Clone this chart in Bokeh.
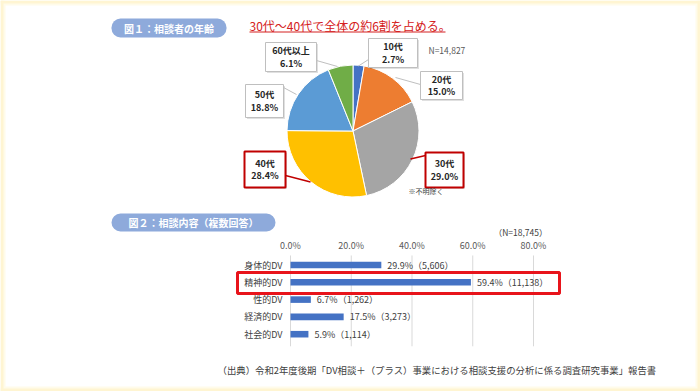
import math
from bokeh.plotting import figure
from bokeh.models import (Range1d, LinearAxis, FixedTicker, PrintfTickFormatter,
                          BoxAnnotation, ColumnDataSource)
from bokeh.core.properties import value
from bokeh.embed import file_html
from bokeh.resources import INLINE

# ---------------- data ----------------
age_groups = ["10代", "20代", "30代", "40代", "50代", "60代以上"]
age_share = [2.7, 15.0, 29.0, 28.4, 18.8, 6.1]
age_colors = ["#4472C4", "#ED7D31", "#A5A5A5", "#FFC000", "#5B9BD5", "#70AD47"]
age_n_text = "N=14,827"
age_note = "※不明除く"
fig1_title = "図１：相談者の年齢"
fig1_headline = "30代～40代で全体の約6割を占める。"

dv_categories = ["身体的DV", "精神的DV", "性的DV", "経済的DV", "社会的DV"]
dv_share = [29.9, 59.4, 6.7, 17.5, 5.9]
dv_counts = [5606, 11138, 1262, 3273, 1114]
dv_ticks = [0, 20, 40, 60, 80]
dv_n_text = "（N=18,745）"
fig2_title = "図２：相談内容（複数回答）"
source_text = "（出典）令和2年度後期「DV相談＋（プラス）事業における相談支援の分析に係る調査研究事業」報告書"

JP = value("Noto Sans CJK JP")

# ---------------- page geometry (pixel coordinates of the page) ----------------
W, H = 700, 391
X0, Y0 = 0, 0


def Y(r):
    return -r


p = figure(width=W, height=H, output_backend="svg", toolbar_location=None,
           x_range=Range1d(X0, X0 + W), y_range=Range1d(-(Y0 + H), -Y0),
           x_axis_location=None, y_axis_location=None, min_border=0,
           background_fill_color="white", border_fill_color="white")
p.outline_line_color = None
p.xgrid.visible = False
p.ygrid.visible = False

# cream page frame
for (w, c) in [(5, "#FFFBEA"), (3, "#FFF5D2")]:
    p.quad(left=[0, 0, 0, W - w], right=[W, W, w, W], top=[Y(0), Y(H - w), Y(0), Y(0)],
           bottom=[Y(w), Y(H), Y(H), Y(H)], fill_color=c, line_color=None)

# bar-chart scales: 0% at x=290, 80% at x=533 ; first category at y=264.5, step 17.3
bx0, bx80 = 290.0, 533.0
ppu = (bx80 - bx0) / 80.0
cy0, cstep = 264.5, 17.3
p.extra_x_ranges = {"pct": Range1d((X0 - bx0) / ppu, (X0 + W - bx0) / ppu)}
p.extra_y_ranges = {"cat": Range1d((Y0 + H - cy0) / cstep, (Y0 - cy0) / cstep)}

# ---------------- title pills ----------------
pill_color = "#8EAADB"
for (l, r, t, b, txt) in [(111, 226, 18, 37, fig1_title), (111, 275, 213, 231, fig2_title)]:
    p.add_layout(BoxAnnotation(left=l, right=r, top=Y(t), bottom=Y(b),
                               fill_color=pill_color, fill_alpha=1.0,
                               line_color=None, border_radius=9, level="underlay"))
    p.text(x=[(l + r) / 2], y=[Y((t + b) / 2)], text=[txt], text_align="center",
           text_baseline="middle", text_color="white", text_font=JP,
           text_font_size="10px", text_font_style="bold")

# headline (red, underlined)
p.text(x=[249], y=[Y(25)], text=[fig1_headline], text_align="left", text_baseline="middle",
       text_color="#D42020", text_font=JP, text_font_size="12px")
p.segment(x0=[249], x1=[445], y0=[Y(31.5)], y1=[Y(31.5)], line_color="#D42020", line_width=1)

# ---------------- pie ----------------
cx, cy, rad = 352.5, 130.5, 66
starts, ends, cum = [], [], 0.0
for v in age_share:
    starts.append(math.pi / 2 - 2 * math.pi * cum / 100.0)
    cum += v
    ends.append(math.pi / 2 - 2 * math.pi * cum / 100.0)
pie_src = ColumnDataSource(dict(group=age_groups, share=age_share, color=age_colors,
                                start=starts, end=ends))
p.wedge(x=cx, y=Y(cy), radius=rad, start_angle="start", end_angle="end",
        direction="clock", fill_color="color", line_color="white", line_width=1,
        source=pie_src)

# callout boxes: (left, right, top, bottom), leader (x0,y0,x1,y1), highlighted
callouts = {
    "10代": ((368, 417, 38, 67), (368, 59, 358, 65.5), False),
    "20代": ((420, 462, 71, 99), (420, 84, 395, 77), False),
    "30代": ((425, 463, 152, 187), (425, 155, 410, 158.5), True),
    "40代": ((244, 285, 151, 187), (285, 175, 310, 181.5), True),
    "50代": ((245, 283, 84, 117), (283, 87, 296, 94), False),
    "60代以上": ((265, 316, 42, 71), (316, 60, 337, 66), False),
}
for g, v in zip(age_groups, age_share):
    (l, r, t, b), (lx0, ly0, lx1, ly1), hi = callouts[g]
    col = "#C00000" if hi else "#BFBFBF"
    p.quad(left=[l + 1.5], right=[r + 1.5], top=[Y(t + 1.5)], bottom=[Y(b + 1.5)],
           fill_color="#000000", fill_alpha=0.12, line_color=None)
    p.segment(x0=[lx0], y0=[Y(ly0)], x1=[lx1], y1=[Y(ly1)], line_color=col,
              line_width=1.5 if hi else 1)
    p.quad(left=[l], right=[r], top=[Y(t)], bottom=[Y(b)], fill_color="white",
           line_color=col, line_width=2 if hi else 1)
    mid = (t + b) / 2
    p.text(x=[(l + r) / 2] * 2, y=[Y(mid - 6.3), Y(mid + 6.3)], text=[g, f"{v:.1f}%"],
           text_align="center", text_baseline="middle", text_color="#262626",
           text_font=JP, text_font_size="9px", text_font_style="bold")

p.text(x=[428], y=[Y(49)], text=[age_n_text], text_align="left", text_baseline="middle",
       text_color="#595959", text_font=JP, text_font_size="8.5px")
p.text(x=[408], y=[Y(190.5)], text=[age_note], text_align="left", text_baseline="middle",
       text_color="#404040", text_font=JP, text_font_size="7px")

# ---------------- bar chart ----------------
idx = list(range(len(dv_categories)))
p.segment(x0=dv_ticks, x1=dv_ticks, y0=[-0.55] * len(dv_ticks), y1=[4.7] * len(dv_ticks),
          line_color="#D9D9D9", line_width=1, x_range_name="pct", y_range_name="cat")
p.hbar(y=idx, left=0, right=dv_share, height=0.38, fill_color="#4472C4", line_color=None,
       x_range_name="pct", y_range_name="cat")
bar_labels = [f"{v:.1f}%（{c:,}）" for v, c in zip(dv_share, dv_counts)]
p.text(x=dv_share, y=idx, text=bar_labels, x_offset=6, text_align="left",
       text_baseline="middle", text_color="#404040", text_font=JP, text_font_size="9px",
       x_range_name="pct", y_range_name="cat")

top_axis = LinearAxis(x_range_name="pct", ticker=FixedTicker(ticks=dv_ticks),
                      formatter=PrintfTickFormatter(format="%.1f%%"), fixed_location=Y(254))
top_axis.axis_line_color = None
top_axis.major_tick_line_color = None
top_axis.minor_tick_line_color = None
top_axis.major_tick_out = 0
top_axis.major_tick_in = 0
top_axis.minor_tick_out = 0
top_axis.major_label_standoff = 3
top_axis.major_label_text_font = "Noto Sans CJK JP"
top_axis.major_label_text_font_size = "9px"
top_axis.major_label_text_color = "#595959"
p.add_layout(top_axis, "above")

cat_axis = LinearAxis(y_range_name="cat", x_range_name="pct", fixed_location=0,
                      ticker=FixedTicker(ticks=idx),
                      major_label_overrides={i: c for i, c in zip(idx, dv_categories)})
cat_axis.axis_line_color = None
cat_axis.major_tick_line_color = None
cat_axis.minor_tick_line_color = None
cat_axis.major_tick_out = 0
cat_axis.major_tick_in = 0
cat_axis.minor_tick_out = 0
cat_axis.major_label_standoff = 8
cat_axis.major_label_text_font = "Noto Sans CJK JP"
cat_axis.major_label_text_font_size = "9px"
cat_axis.major_label_text_color = "#404040"
p.add_layout(cat_axis, "left")

p.text(x=[547], y=[Y(231)], text=[dv_n_text], text_align="right", text_baseline="middle",
       text_color="#404040", text_font=JP, text_font_size="8.5px")

# highlight frame around the second category
p.quad(left=[237], right=[559], top=[Y(272)], bottom=[Y(293)], fill_color=None,
       line_color="#E8141B", line_width=3)

# source note
p.text(x=[217], y=[Y(369)], text=[source_text], text_align="left", text_baseline="middle",
       text_color="#404040", text_font=JP, text_font_size="9.4px")

open("out.html", "w").write(file_html(p, INLINE))
